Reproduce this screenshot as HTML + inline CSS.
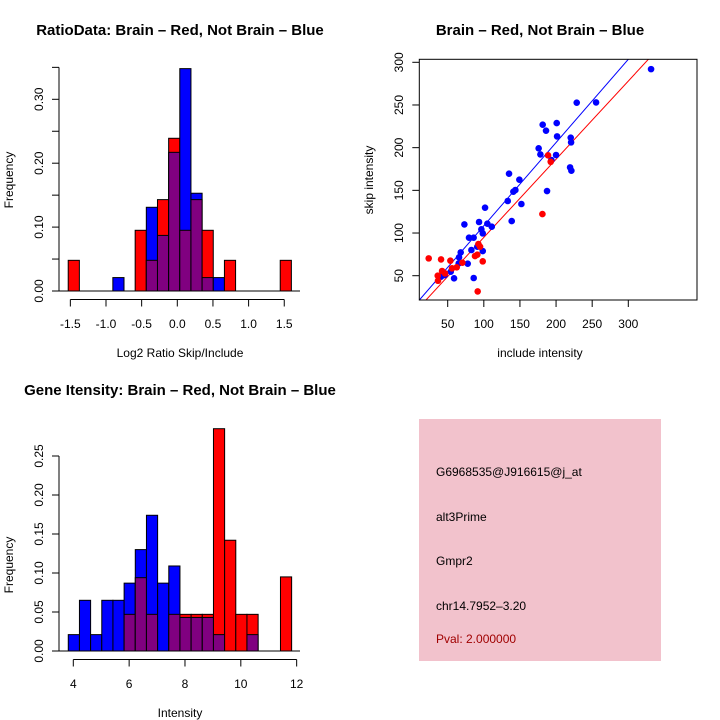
<!DOCTYPE html>
<html><head><meta charset="utf-8"><style>
html,body{margin:0;padding:0;background:#fff;}
svg{display:block;font-family:"Liberation Sans",sans-serif;}
</style></head><body>
<svg id="c" width="720" height="720" viewBox="0 0 720 720" xmlns="http://www.w3.org/2000/svg">
<rect x="0" y="0" width="720" height="720" fill="#fff"/>
<text x="180" y="35" text-anchor="middle" font-size="15" font-weight="bold">RatioData: Brain – Red, Not Brain – Blue</text>
<text x="180" y="357" text-anchor="middle" font-size="12">Log2 Ratio Skip/Include</text>
<text transform="translate(13,180) rotate(-90)" text-anchor="middle" font-size="12">Frequency</text>
<text x="540" y="35" text-anchor="middle" font-size="15" font-weight="bold">Brain – Red, Not Brain – Blue</text>
<text x="540" y="357" text-anchor="middle" font-size="12">include intensity</text>
<text transform="translate(373,180) rotate(-90)" text-anchor="middle" font-size="12">skip intensity</text>
<text x="180" y="395" text-anchor="middle" font-size="15" font-weight="bold">Gene Itensity: Brain – Red, Not Brain – Blue</text>
<text x="180" y="717" text-anchor="middle" font-size="12">Intensity</text>
<text transform="translate(13,565) rotate(-90)" text-anchor="middle" font-size="12">Frequency</text>
<g id="info">
<rect x="419" y="419" width="242" height="242" fill="#f2c2cc"/>
<text x="436" y="476" font-size="12">G6968535@J916615@j_at</text>
<text x="436" y="521" font-size="12">alt3Prime</text>
<text x="436" y="565" font-size="12">Gmpr2</text>
<text x="436" y="610" font-size="12">chr14.7952–3.20</text>
<text x="436" y="643" font-size="12" fill="#a00000">Pval: 2.000000</text>
</g>
<g id="g1"></g><g id="g2"></g><g id="g3"></g>
</svg>
<script>
// Ratio histogram data
const ratioBreakStart = -1.53, ratioBreakWidth = 0.1565;
const ratioRed  = [0.048,0,0,0,0,0,0.095,0.048,0.143,0.239,0.095,0.143,0.095,0,0.048,0,0,0,0,0.048];
const ratioBlue = [0,0,0,0,0.021,0,0,0.131,0.087,0.217,0.348,0.153,0.021,0.021,0,0,0,0,0,0];
const ratioXTicks = [-1.5,-1.0,-0.5,0.0,0.5,1.0,1.5];
const ratioXLabels = ["-1.5","-1.0","-0.5","0.0","0.5","1.0","1.5"];
const ratioYTicks = [0,0.05,0.10,0.15,0.20,0.25,0.30,0.35];
const ratioYLabels = ["0.00","","0.10","","0.20","","0.30",""];
// Intensity histogram data
const intBreakStart = 3.82, intBreakWidth = 0.4;
const intRed  = [0,0,0,0,0,0.047,0.094,0.047,0,0.047,0.047,0.047,0.047,0.285,0.142,0.047,0.047,0,0,0.095];
const intBlue = [0.021,0.065,0.021,0.065,0.065,0.087,0.130,0.174,0.087,0.109,0.043,0.043,0.043,0.021,0,0,0.021,0,0,0];
const intXTicks = [4,6,8,10,12];
const intYTicks = [0,0.05,0.10,0.15,0.20,0.25];
const intYLabels = ["0.00","0.05","0.10","0.15","0.20","0.25"];
// Scatter data
const blueX = [331.5,228.6,255.4,181.5,200.9,186.1,201.4,220.3,220.8,175.9,178.3,200,193.5,219.4,221.2,134.9,149.2,143.7,140.9,187.5,152,133.1,101.7,138.6,73.1,93.4,104.9,111,96.6,98.5,79.5,85.9,68,98.5,82.8,65.7,77.7,65.2,86,58.8,40.8,54.2,91,45.8];
const blueY = [292,252.7,253,226.9,228.8,219.9,213.2,211.7,206.2,199.2,192.1,191.4,185.5,176.9,173,169.5,162.5,150.4,148.4,149.2,134,137.5,129.7,114,110.1,112.9,110.9,107.4,104.3,99.6,94.5,94.5,77.3,78.9,80.1,71.5,64.1,64.4,47.3,46.9,48.8,54.7,84,50.8];
const redX = [23.7,40.8,53.7,36.2,36.6,42.2,46.3,56,62.5,70.3,92.5,94.8,87.8,91,98.5,91.5,181.1,188.9,192.6];
const redY = [70.3,69.1,67.6,50,44.1,55.5,52.7,58.6,59.8,65.2,87.1,84,73,74.6,66.8,31.6,122.2,191,183.5];
const blueFit = [11.0, 0.975];
const redFit = [3.25, 0.916];
const scatXTicks = [50,100,150,200,250,300];
const scatYTicks = [50,100,150,200,250,300];

const NS = "http://www.w3.org/2000/svg";
function mk(parent, tag, attrs) {
  const e = document.createElementNS(NS, tag);
  for (const k in attrs) e.setAttribute(k, attrs[k]);
  parent.appendChild(e);
  return e;
}
function hist(g, name, bs, bw, red, blue, sx, sy, xTicks, xLabels, yTicks, yLabels, axisY0, axisY1) {
  const base = sy(0);
  for (let i = 0; i < red.length; i++) {
    const x0 = sx(bs + i*bw), x1 = sx(bs + (i+1)*bw);
    const r = red[i], b = blue[i];
    const hi = Math.max(r, b), lo = Math.min(r, b);
    if (hi > 0) {
      const e = mk(g, 'rect', {x:x0, y:sy(hi), width:x1-x0, height:base-sy(hi), fill: r>=b ? '#ff0000' : '#0000ff', stroke:'#000', 'stroke-width':1});
      
      
    }
    if (lo > 0) {
      const e = mk(g, 'rect', {x:x0, y:sy(lo), width:x1-x0, height:base-sy(lo), fill:'#800080', stroke:'#000', 'stroke-width':1});
      
      
    }
  }
  const bl = mk(g, 'line', {x1:59, x2:300, y1:base, y2:base, stroke:'#000', 'stroke-width':1});
  
  
  const ya = mk(g, 'line', {x1:59, x2:59, y1:sy(yTicks[0]), y2:sy(yTicks[yTicks.length-1]), stroke:'#000'});
  
  
  yTicks.forEach((t, i) => {
    mk(g, 'line', {x1:52, x2:59, y1:sy(t), y2:sy(t), stroke:'#000'});
    if (yLabels[i]) {
      const tx = mk(g, 'text', {transform:`translate(43,${sy(t)}) rotate(-90)`, 'text-anchor':'middle', 'font-size':12});
      tx.textContent = yLabels[i];
      
      
    }
  });
  const xa = mk(g, 'line', {x1:sx(xTicks[0]), x2:sx(xTicks[xTicks.length-1]), y1:axisY0, y2:axisY0, stroke:'#000'});
  
  
  xTicks.forEach((t, i) => {
    mk(g, 'line', {x1:sx(t), x2:sx(t), y1:axisY0, y2:axisY0+7, stroke:'#000'});
    const tx = mk(g, 'text', {x:sx(t), y:axisY1, 'text-anchor':'middle', 'font-size':12});
    tx.textContent = xLabels[i];
    
    
  });
}
hist(document.getElementById('g1'), 'ratio-hist', ratioBreakStart, ratioBreakWidth, ratioRed, ratioBlue,
  v => 177.3 + 71.3*v, v => 291 - 639*v, ratioXTicks, ratioXLabels, ratioYTicks, ratioYLabels, 299.5, 328);
hist(document.getElementById('g3'), 'intensity-hist', intBreakStart, intBreakWidth, intRed, intBlue,
  v => 73.3 + 27.92*(v-4), v => 651 - 780*v, intXTicks, intXTicks.map(String), intYTicks, intYLabels, 659.5, 688);

const g2 = document.getElementById('g2');
const px = v => 447.7 + (v-50)*0.7224, py = v => 275.7 - (v-50)*0.8536;
const L = 419.3, R = 697, T = 59.3, B = 300;
const clip = mk(g2, 'clipPath', {id:'sc'});
mk(clip, 'rect', {x:L, y:T, width:R-L, height:B-T});
function fitLine(fit, col, nm) {
  const x0 = 0, x1 = 400;
  const e = mk(g2, 'line', {x1:px(x0), y1:py(fit[0]+fit[1]*x0), x2:px(x1), y2:py(fit[0]+fit[1]*x1), stroke:col, 'stroke-width':1, 'clip-path':'url(#sc)'});
  
  
}
fitLine(blueFit, '#0000ff', 'blue-fit-line');
fitLine(redFit, '#ff0000', 'red-fit-line');
blueX.forEach((x, i) => {
  const c = mk(g2, 'circle', {cx:px(x), cy:py(blueY[i]), r:3.3, fill:'#0000ff', 'clip-path':'url(#sc)'});
  
  
});
redX.forEach((x, i) => {
  const c = mk(g2, 'circle', {cx:px(x), cy:py(redY[i]), r:3.3, fill:'#ff0000', 'clip-path':'url(#sc)'});
  
  
});
const box = mk(g2, 'rect', {x:L, y:T, width:R-L, height:B-T, fill:'none', stroke:'#000'});


scatXTicks.forEach(t => {
  mk(g2, 'line', {x1:px(t), x2:px(t), y1:B, y2:B+7, stroke:'#000'});
  const tx = mk(g2, 'text', {x:px(t), y:328, 'text-anchor':'middle', 'font-size':12});
  tx.textContent = t;
  
  
});
scatYTicks.forEach(t => {
  mk(g2, 'line', {x1:L-7, x2:L, y1:py(t), y2:py(t), stroke:'#000'});
  const tx = mk(g2, 'text', {transform:`translate(403,${py(t)}) rotate(-90)`, 'text-anchor':'middle', 'font-size':12});
  tx.textContent = t;
  
  
});
</script>
</body></html>
